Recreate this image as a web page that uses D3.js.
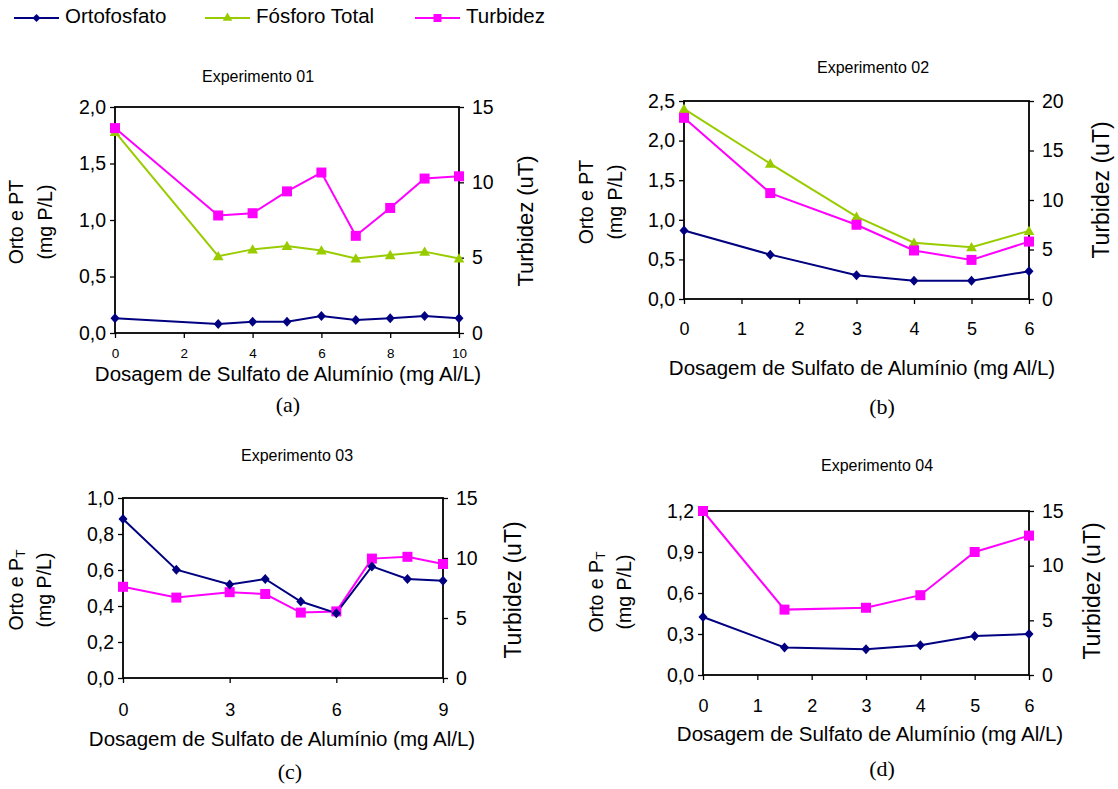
<!DOCTYPE html>
<html><head><meta charset="utf-8">
<script src="https://cdn.jsdelivr.net/npm/d3@7"></script>
<style>
html,body{margin:0;padding:0;background:#fff;}
svg{display:block;font-family:"Liberation Sans",Arial,sans-serif;}
</style></head>
<body>
<svg id="c" width="1118" height="789"></svg>
<script>
// ---- data ----
const seriesNames = ["Ortofosfato", "Fósforo Total", "Turbidez"];

const exp1Dose = [0, 3, 4, 5, 6, 7, 8, 9, 10];
const exp1Orto = [0.13, 0.08, 0.10, 0.10, 0.15, 0.115, 0.13, 0.15, 0.13];
const exp1PT   = [1.78, 0.68, 0.74, 0.77, 0.73, 0.66, 0.69, 0.72, 0.66];
const exp1Turb = [13.6, 7.8, 7.95, 9.4, 10.65, 6.45, 8.3, 10.25, 10.4];

const exp2Dose = [0, 1.5, 3, 4, 5, 6];
const exp2Orto = [0.865, 0.56, 0.30, 0.23, 0.23, 0.35];
const exp2PT   = [2.40, 1.71, 1.04, 0.71, 0.655, 0.86];
const exp2Turb = [18.3, 10.7, 7.5, 4.9, 3.95, 5.8];

const exp3Dose = [0, 1.5, 3, 4, 5, 6, 7, 8, 9];
const exp3Orto = [0.883, 0.602, 0.52, 0.55, 0.425, 0.36, 0.62, 0.55, 0.54];
const exp3Turb = [7.6, 6.7, 7.15, 7.0, 5.45, 5.55, 9.95, 10.1, 9.5];

const exp4Dose = [0, 1.5, 3, 4, 5, 6];
const exp4Orto = [0.424, 0.202, 0.188, 0.217, 0.285, 0.30];
const exp4Turb = [15.0, 5.98, 6.15, 7.3, 11.25, 12.75];

const titles = ["Experimento 01", "Experimento 02", "Experimento 03", "Experimento 04"];
const letters = ["(a)", "(b)", "(c)", "(d)"];
const xTitle = "Dosagem de Sulfato de Alumínio (mg Al/L)";
const rightTitle = "Turbidez (uT)";

const xTicks1 = [0, 2, 4, 6, 8, 10];
const xTicks2 = [0, 1, 2, 3, 4, 5, 6];
const xTicks3 = [0, 3, 6, 9];
const xTicks4 = [0, 1, 2, 3, 4, 5, 6];
const yTicks1 = [0, 0.5, 1.0, 1.5, 2.0];
const yTicks2 = [0, 0.5, 1.0, 1.5, 2.0, 2.5];
const yTicks3 = [0, 0.2, 0.4, 0.6, 0.8, 1.0];
const yTicks4 = [0, 0.3, 0.6, 0.9, 1.2];
const rTicks1 = [0, 5, 10, 15];
const rTicks2 = [0, 5, 10, 15, 20];
const rTicks3 = [0, 5, 10, 15];
const rTicks4 = [0, 5, 10, 15];

const colors = {orto: "#000080", pt: "#99CC00", turb: "#FF00FF"};

// ---- layout ----
const panels = [
  {box:{l:115,r:459,t:107,b:333}, xd:[0,10], yd:[0,2], rd:[0,15], xt:xTicks1, yt:yTicks1, rt:rTicks1,
   dose:exp1Dose, orto:exp1Orto, pt:exp1PT, turb:exp1Turb, title:titles[0], letter:letters[0],
   titleXY:[258,78], xtFont:13.5, xtPad:10, ytFont:19.5, rtFont:19.5,
   lab1:[18,222], lab2:[47,222], labFont:19.5, sub:false, turbXY:[527,221], turbFont:22,
   xTitleXY:[288,376], xTitleFont:20.5, letterXY:[288,407]},
  {box:{l:684,r:1029,t:101,b:299}, xd:[0,6], yd:[0,2.5], rd:[0,20], xt:xTicks2, yt:yTicks2, rt:rTicks2,
   dose:exp2Dose, orto:exp2Orto, pt:exp2PT, turb:exp2Turb, title:titles[1], letter:letters[1],
   titleXY:[873,69], xtFont:18, xtPad:18, ytFont:19.5, rtFont:19.5,
   lab1:[588,202], lab2:[617,202], labFont:19.5, sub:false, turbXY:[1103,190], turbFont:23,
   xTitleXY:[862,370], xTitleFont:20.5, letterXY:[882,409]},
  {box:{l:123,r:443,t:498,b:678}, xd:[0,9], yd:[0,1], rd:[0,15], xt:xTicks3, yt:yTicks3, rt:rTicks3,
   dose:exp3Dose, orto:exp3Orto, pt:null, turb:exp3Turb, title:titles[2], letter:letters[2],
   titleXY:[297,457], xtFont:18, xtPad:20, ytFont:19.5, rtFont:19.5,
   lab1:[18,590], lab2:[46,590], labFont:19.5, sub:true, turbXY:[515,590], turbFont:23,
   xTitleXY:[282,741], xTitleFont:20.5, letterXY:[290,774]},
  {box:{l:703,r:1029,t:511,b:675}, xd:[0,6], yd:[0,1.2], rd:[0,15], xt:xTicks4, yt:yTicks4, rt:rTicks4,
   dose:exp4Dose, orto:exp4Orto, pt:null, turb:exp4Turb, title:titles[3], letter:letters[3],
   titleXY:[877,467], xtFont:18, xtPad:19.5, ytFont:19.5, rtFont:19.5,
   lab1:[598,592], lab2:[626,592], labFont:19.5, sub:true, turbXY:[1094,591], turbFont:23,
   xTitleXY:[870,736], xTitleFont:20.5, letterXY:[882,771]}
];

const svg = d3.select("#c");
const fmt = v => d3.format(".1f")(v).replace(".", ",");

function marker(g, type, x, y, color) {
  if (type === "diamond") {
    g.append("path").attr("d", `M${x},${y-5}L${x+4.5},${y}L${x},${y+5}L${x-4.5},${y}Z`).attr("fill", color);
  } else if (type === "square") {
    g.append("rect").attr("x", x-5).attr("y", y-5).attr("width", 10).attr("height", 10).attr("fill", color);
  } else {
    g.append("path").attr("d", d3.symbol(d3.symbolTriangle, 50)()).attr("transform", `translate(${x},${y+1})`).attr("fill", color);
  }
}

panels.forEach(p => {
  const B = p.box;
  const x = d3.scaleLinear().domain(p.xd).range([B.l, B.r]);
  const y = d3.scaleLinear().domain(p.yd).range([B.b, B.t]);
  const yr = d3.scaleLinear().domain(p.rd).range([B.b, B.t]);
  const g = svg.append("g");

  // frame
  g.append("rect").attr("x", B.l).attr("y", B.t).attr("width", B.r-B.l).attr("height", B.b-B.t)
    .attr("fill", "none").attr("stroke", "#000").attr("stroke-width", 1.8);

  // axes
  const ax = g.append("g").attr("transform", `translate(0,${B.b})`)
    .call(d3.axisBottom(x).tickValues(p.xt).tickSize(5).tickSizeOuter(0).tickPadding(p.xtPad).tickFormat(d3.format("d")));
  ax.selectAll("text").attr("font-size", p.xtFont).attr("font-family", "Liberation Sans, Arial");
  const ay = g.append("g").attr("transform", `translate(${B.l},0)`)
    .call(d3.axisLeft(y).tickValues(p.yt).tickSize(5).tickSizeOuter(0).tickPadding(4).tickFormat(fmt));
  ay.selectAll("text").attr("font-size", p.ytFont).attr("font-family", "Liberation Sans, Arial");
  const ar = g.append("g").attr("transform", `translate(${B.r},0)`)
    .call(d3.axisRight(yr).tickValues(p.rt).tickSize(5).tickSizeOuter(0).tickPadding(8).tickFormat(d3.format("d")));
  ar.selectAll("text").attr("font-size", p.rtFont).attr("font-family", "Liberation Sans, Arial");
  [ax, ay, ar].forEach(a => { a.select(".domain").remove(); a.selectAll("line").attr("stroke", "#000").attr("stroke-width", 1.3); a.selectAll("text").attr("fill", "#000"); });

  // lines
  const line = (yy, vals) => d3.line().x((d, i) => x(p.dose[i])).y(d => yy(d))(vals);
  const lg = g.append("g");
  if (p.pt) lg.append("path").attr("d", line(y, p.pt)).attr("fill", "none").attr("stroke", colors.pt).attr("stroke-width", 2);
  lg.append("path").attr("d", line(yr, p.turb)).attr("fill", "none").attr("stroke", colors.turb).attr("stroke-width", 2);
  lg.append("path").attr("d", line(y, p.orto)).attr("fill", "none").attr("stroke", colors.orto).attr("stroke-width", 2);
  if (p.pt) p.pt.forEach((v, i) => marker(lg, "triangle", x(p.dose[i]), y(v), colors.pt));
  p.turb.forEach((v, i) => marker(lg, "square", x(p.dose[i]), yr(v), colors.turb));
  p.orto.forEach((v, i) => marker(lg, "diamond", x(p.dose[i]), y(v), colors.orto));

  // texts
  g.append("text").attr("x", p.titleXY[0]).attr("y", p.titleXY[1]).attr("text-anchor", "middle")
    .attr("dominant-baseline", "middle").attr("font-size", 16).text(p.title);
  const l1 = g.append("text").attr("transform", `translate(${p.lab1[0]},${p.lab1[1]}) rotate(-90)`)
    .attr("text-anchor", "middle").attr("dominant-baseline", "middle").attr("font-size", p.labFont);
  if (p.sub) {
    l1.append("tspan").text("Orto e P");
    l1.append("tspan").attr("baseline-shift", "-25%").attr("font-size", p.labFont * 0.7).text("T");
  } else {
    l1.text("Orto e PT");
  }
  g.append("text").attr("transform", `translate(${p.lab2[0]},${p.lab2[1]}) rotate(-90)`)
    .attr("text-anchor", "middle").attr("dominant-baseline", "middle").attr("font-size", p.labFont).text("(mg P/L)");
  g.append("text").attr("transform", `translate(${p.turbXY[0]},${p.turbXY[1]}) rotate(-90)`)
    .attr("text-anchor", "middle").attr("dominant-baseline", "middle").attr("font-size", p.turbFont).text(rightTitle);
  g.append("text").attr("x", p.xTitleXY[0]).attr("y", p.xTitleXY[1]).attr("text-anchor", "middle")
    .attr("dominant-baseline", "middle").attr("font-size", p.xTitleFont).text(xTitle);
  g.append("text").attr("x", p.letterXY[0]).attr("y", p.letterXY[1]).attr("text-anchor", "middle")
    .attr("dominant-baseline", "middle").attr("font-size", 22).attr("font-family", "Liberation Serif, Times New Roman, serif").text(p.letter);
});

// legend
const legendItems = [
  {name: seriesNames[0], color: colors.orto, type: "diamond", x0: 14},
  {name: seriesNames[1], color: colors.pt, type: "triangle", x0: 205},
  {name: seriesNames[2], color: colors.turb, type: "square", x0: 415}
];
const leg = svg.append("g");
legendItems.forEach(it => {
  leg.append("line").attr("x1", it.x0).attr("x2", it.x0 + 45).attr("y1", 18).attr("y2", 18)
    .attr("stroke", it.color).attr("stroke-width", 2);
  const cx = it.x0 + 22.5;
  if (it.type === "square") leg.append("rect").attr("x", cx - 4).attr("y", 14).attr("width", 8).attr("height", 8).attr("fill", it.color);
  else if (it.type === "triangle") leg.append("path").attr("d", d3.symbol(d3.symbolTriangle, 40)()).attr("transform", `translate(${cx},${18})`).attr("fill", it.color);
  else leg.append("path").attr("d", `M${cx},14L${cx+4},18L${cx},22L${cx-4},18Z`).attr("fill", it.color);
  leg.append("text").attr("x", it.x0 + 51).attr("y", 18).attr("dominant-baseline", "middle").attr("font-size", 20.5).text(it.name);
});
</script>
</body></html>
